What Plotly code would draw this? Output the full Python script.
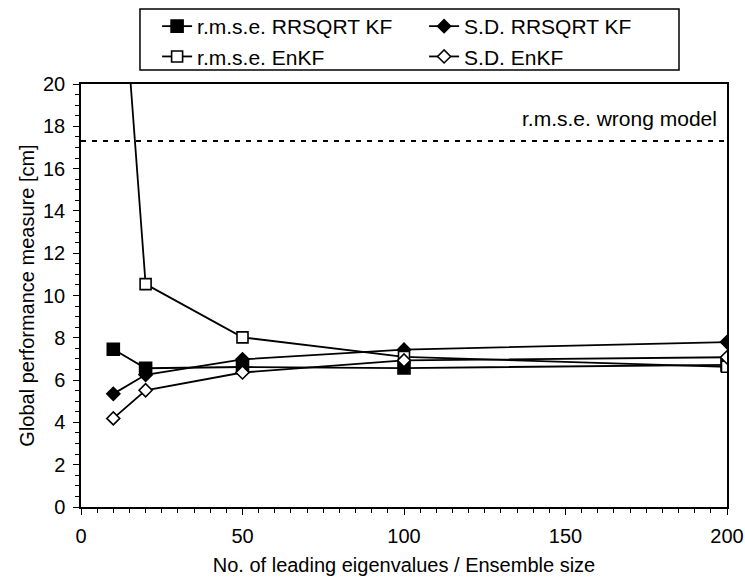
import plotly.graph_objects as go

# ---- data ----
x_vals = [10, 20, 50, 100, 200]
rmse_rrsqrt = [7.46, 6.56, 6.62, 6.57, 6.72]
sd_rrsqrt = [5.35, 6.25, 6.98, 7.44, 7.8]
rmse_enkf = [31.0, 10.54, 8.02, 7.1, 6.63]
sd_enkf = [4.19, 5.52, 6.36, 6.93, 7.08]
wrong_model_rmse = 17.3
wrong_model_x = [0, 200]

series_names = ["r.m.s.e. RRSQRT KF", "S.D. RRSQRT KF", "r.m.s.e. EnKF", "S.D. EnKF"]
x_ticks = [0, 50, 100, 150, 200]
y_ticks = [0, 2, 4, 6, 8, 10, 12, 14, 16, 18, 20]

FONT = "Liberation Sans, Arial, sans-serif"

fig = go.Figure()

styles = [
    (rmse_rrsqrt, "square", "black", 12),
    (sd_rrsqrt, "diamond", "black", 10),
    (rmse_enkf, "square", "white", 11),
    (sd_enkf, "diamond", "white", 10),
]
for (vals, sym, fill, size), name in zip(styles, series_names):
    fig.add_trace(go.Scatter(
        x=x_vals, y=vals, name=name, mode="lines+markers",
        line=dict(color="black", width=1.8),
        marker=dict(symbol=sym, size=size, color=fill,
                    line=dict(color="black", width=1.6)),
    ))

fig.add_trace(go.Scatter(
    x=wrong_model_x, y=[wrong_model_rmse] * 2, mode="lines",
    line=dict(color="black", width=2, dash="5px,6px"),
    showlegend=False, hoverinfo="skip",
))

fig.add_annotation(
    x=1, xref="paper", xanchor="right", xshift=-8,
    y=wrong_model_rmse, yref="y", yanchor="bottom", yshift=9,
    text="r.m.s.e. wrong model", showarrow=False,
    font=dict(size=21, color="black", family=FONT),
)

# legend frame
fig.add_shape(
    type="rect", xref="paper", yref="paper",
    x0=0.0913, x1=0.9257, y0=1.0331, y1=1.1773,
    line=dict(color="black", width=1.5), fillcolor="rgba(0,0,0,0)", layer="above",
)

axis_common = dict(
    showline=True, linecolor="black", linewidth=1.5, mirror=True,
    ticks="outside", ticklen=6, tickwidth=1.3, tickcolor="black",
    showgrid=False, zeroline=False, automargin=False,
    tickfont=dict(size=20, color="black", family=FONT),
)

fig.update_xaxes(
    range=[0, 200], tickvals=x_ticks, ticklabelstandoff=4,
    minor=dict(dtick=5, ticks="outside", ticklen=4, tickwidth=1.2, tickcolor="black"),
    title=dict(text="No. of leading eigenvalues / Ensemble size",
               font=dict(size=20, color="black", family=FONT), standoff=12),
    **axis_common,
)
fig.update_yaxes(
    range=[0, 20], tickvals=y_ticks, ticklabelstandoff=4,
    minor=dict(dtick=0.5, ticks="outside", ticklen=4, tickwidth=1.2, tickcolor="black"),
    title=dict(text="Global performance measure [cm]",
               font=dict(size=20, color="black", family=FONT), standoff=3),
    **axis_common,
)

fig.update_layout(
    width=745, height=577,
    margin=dict(l=81, r=18, t=84, b=70, autoexpand=False),
    paper_bgcolor="white", plot_bgcolor="white",
    font=dict(family=FONT, color="black", size=20),
    legend=dict(
        orientation="h", x=0.1178, y=1.1844, xanchor="left", yanchor="top",
        entrywidth=222, entrywidthmode="pixels",
        borderwidth=0, bgcolor="rgba(0,0,0,0)",
        font=dict(size=21, color="black", family=FONT),
        tracegroupgap=0,
    ),
)

fig.write_html("out.html")
